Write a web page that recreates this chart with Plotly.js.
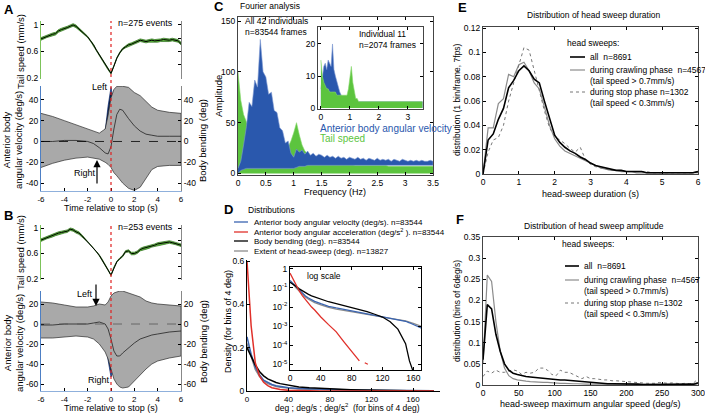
<!DOCTYPE html>
<html>
<head>
<meta charset="utf-8">
<script src="https://cdn.plot.ly/plotly-3.0.1.min.js"></script>
<style>
  body { margin: 0; background: #fff; }
  #fig { width: 705px; height: 414px; }
</style>
</head>
<body>
<div id="fig"></div>
<script>
// ---- panel A / B : time course around stop (step 0.25 s from -6 to 6) ----
var tailA = [0.79,0.81,0.83,0.84,0.86, 0.87,0.91,0.93,0.94,0.96, 0.98,1.0,0.98,0.94,0.9, 0.86,0.82,0.76,0.7,0.62, 0.55,0.47,0.4,0.33,0.27, 0.38,0.5,0.58,0.64,0.67, 0.7,0.71,0.73,0.75,0.77, 0.76,0.75,0.76,0.77,0.76, 0.76,0.77,0.78,0.77,0.77, 0.78,0.77,0.76,0.72]
var tailB = [0.81,0.83,0.85,0.87,0.88, 0.9,0.92,0.93,0.94,0.95, 0.98,0.97,0.94,0.92,0.88, 0.83,0.79,0.74,0.69,0.63, 0.57,0.5,0.42,0.34,0.26, 0.38,0.47,0.52,0.56,0.63, 0.64,0.6,0.6,0.62,0.66, 0.68,0.69,0.7,0.72,0.73, 0.75,0.76,0.76,0.77,0.78, 0.77,0.76,0.75,0.73]
var tailSem = [.02,.02,.02,.02,.02, .02,.02,.02,.02,.02, .02,.02,.02,.02,.015, .012,.01,.008,.008,.008, .008,.008,.008,.008,.008, .008,.008,.01,.012,.015, .018,.02,.02,.02,.02, .02,.02,.02,.02,.02, .02,.02,.02,.02,.02, .02,.02,.02,.02]

var angvelA = [2,1,0,-1,-2, 0,-1,1,0,1, 3,2,1,2,1, 0,-2,-4,-6,-9, -11,-8,5,28,47, 30,2,-15,-21,-17, -11,-6,-2,0,1, 2,3,1,2,0, 1,2,1,0,-1, 0,0,-1,0]
var semA = [4,4,3,3,3, 3,3,3,3,3, 3,3,3,3,3, 3,3,3,3,4, 4,4,5,6,5, 6,6,6,7,6, 5,4,4,4,4, 4,4,4,4,4, 4,4,4,4,4, 4,4,4,4]
var angvelB = [0,-1,0,-1,-2, -1,0,-1,0,-1, 0,-2,-1,0,-2, -1,1,4,7,10, 11,6,-8,-30,-47, -38,-15,8,15,10, 2,-2,-4,-3,-2, -1,-2,0,-3,-2, -3,-1,-2,-3,-4, -1,-3,-2,-3]
var semB = [3,3,3,3,3, 3,3,3,3,3, 3,3,3,3,3, 3,3,3,4,4, 4,4,5,6,6, 6,6,6,7,7, 6,5,5,5,5, 5,5,5,5,5, 5,5,5,5,5, 5,5,5,5]

// body bending (mean and spread), coarser time grid
var bendT = [-6,-5,-4,-3,-2,-1.5,-1,-0.5,-0.25,0,0.25,0.5,0.75,1,1.5,2,2.5,3,3.5,4,5,6]
var bendUpA = [27,24,20,16,12,10,8,12,25,42,50,53,53,53,52,47,44,38,33,30,28,27]
var bendLoA = [-25,-21,-18,-16,-15,-16,-17,-20,-22,-25,-30,-33,-36,-40,-45,-47,-44,-35,-27,-24,-23,-23]
var bendMeanA = [0,0,1,1,0,-2,-6,-11,-12,-5,12,26,31,30,22,15,10,7,6,5,5,5]
var bendUpB = [22,21,19,17,17,18,20,19,22,28,31,32,33,33,31,29,27,23,21,20,19,18]
var bendLoB = [-14,-14,-13,-12,-13,-15,-20,-28,-35,-45,-55,-60,-63,-64,-63,-57,-51,-45,-40,-37,-34,-32]
var bendMeanB = [-1,-1,0,0,0,1,2,0,-5,-15,-27,-32,-32,-29,-24,-19,-15,-13,-11,-10,-8,-7]

// ---- panel C : Fourier amplitude, 0.05 Hz steps ----
var fourierBlueTop = [5,12,28,46,70,66,92,85,132,100, 95,78,80,62,60,45,42,30,32,20, 16,24,21,23,19,22,18,20,17,19, 18,16,18,16,17,15,17,15,16,14, 16,15,14,16,14,15,13,15,14,13, 15,13,14,13,14,12,14,13,12,14, 13,12,13,12,13,12,13,12,12,13, 12]
var fourierBlueLow = [0,3,4,5,5,5,5,5,5,5, 5,5,5,5,5,5,5,5,5,5, 5,6,7,7,7,8,8,8,8,8, 8,8,8,8,8,8,8,8,8,8, 8,8,8,8,8,8,8,8,8,8, 8,8,8,8,8,8,8,8,8,8, 8,8,8,8,8,8,8,8,8,8, 8]
var fourierGreen = [100,72,58,50,44,40,38,35,33,31, 30,28,27,25,24,22,21,22,26,32, 40,50,38,28,22,19,17,15,14,13, 12,11,11,10,10,10,9,9,9,9, 9,9,8,8,8,8,8,8,8,8, 8,8,8,8,7,7,7,7,7,7, 7,7,7,7,7,7,7,7,7,7, 7]
var indivBlue = [6,10,13,14,12,15,14,13,20,12, 10,8,6,5,4,3,3,3,2,2, 2,3,2,2,2,2,2,2,2,2, 2,2,2,2,2,2,2,2,2,2, 2,2,2,2,2,2,2,2,2,2, 2,2,2,2,2,2,2,2,2,2, 2,2,2,2,2,2,2,2,2,2, 2]
var indivGreen = [15,10,8,7,6,6,5,5,5,5, 5,4,4,4,4,4,4,4,4,6, 9,13,8,5,3,3,2,2,2,2, 2,2,2,2,2,2,2,2,2,2, 2,2,2,2,2,2,2,2,2,2, 2,2,2,2,2,2,2,2,2,2, 2,2,2,2,2,2,2,2,2,2, 2]

// ---- panel D : distributions ----
var distX = [0,4,8,12,16,20,24,28,32,40,50,60,70,80,90,100,110,120,130,140,150,155,160,170,180]
var distVel = [0.25,0.17,0.11,0.075,0.05,0.038,0.03,0.024,0.02,0.015,0.011,0.009,0.0075,0.0063,0.0053,0.0045,0.0038,0.0031,0.0026,0.0022,0.0018,0.0015,0.0012,0.0008,0.0006]
var distAcc = [0.6,0.3,0.13,0.07,0.04,0.025,0.015,0.01,0.007,0.003,0.0012,0.0005,0.00015,0.000045,0.000015,null,null,null,null,null,null,null,null,null,null]
var distAccTailX = [97,101]
var distAccTail = [0.000012,0.00001]
var distBend = [0.2,0.16,0.12,0.09,0.07,0.056,0.046,0.039,0.034,0.026,0.019,0.015,0.012,0.0095,0.0072,0.0058,0.0042,0.003,0.0017,0.0007,0.00012,0.000015,0.000004,null,null]
var distSweep = [0.22,0.16,0.1,0.068,0.046,0.034,0.026,0.021,0.017,0.013,0.0095,0.0078,0.0066,0.0057,0.0049,0.0042,0.0036,0.003,0.0026,0.0022,0.0019,0.0017,0.0014,0.001,0.0008]

// ---- panel E : head sweep duration, one bin per frame (7 fps) ----
var durAll = [0,0.028,0.033,0.045,0.054,0.071,0.077,0.085,0.089,0.085,0.078,0.075,0.06,0.045,0.032,0.026,0.022,0.019,0.017,0.014,0.012,0.009,0.007,0.006,0.005,0.004,0.003,0.003,0.002,0.002,0.002,0.002,0.001,0.001,0.001,0.001,0.001,0.001,0.001,0.001,0.001,0.001,0.002]
var durCrawl = [0,0.038,0.038,0.058,0.062,0.082,0.08,0.09,0.092,0.085,0.075,0.07,0.055,0.04,0.029,0.023,0.019,0.017,0.015,0.013,0.011,0.009,0.007,0.005,0.004,0.003,0.003,0.002,0.002,0.002,0.001,0.001,0.001,0.001,0.001,0.001,0.001,0.001,0.001,0.001,0.001,0.001,0.002]
var durStop = [0,0.018,0.028,0.03,0.04,0.06,0.075,0.09,0.104,0.102,0.085,0.07,0.052,0.038,0.031,0.028,0.025,0.021,0.018,0.022,0.012,0.008,0.006,0.005,0.004,0.003,0.003,0.003,0.002,0.002,0.002,0.002,0.002,0.001,0.001,0.001,0.001,0.001,0.001,0.001,0.001,0.001,0.001]

// ---- panel F : head sweep amplitude, bins of 6 deg/s ----
var ampAll = [0.06,0.19,0.18,0.12,0.08,0.05,0.035,0.028,0.025,0.022,0.02,0.019,0.018,0.016,0.016,0.015,0.014,0.013,0.012,0.012,0.011,0.01,0.01,0.009,0.008,0.006,0.005,0.004,0.004,0.003,0.003,0.003,0.002,0.002,0.002,0.002,0.002,0.001,0.001,0.001,0.001,0.001,0.001,0.001,0.001,0.001,0.001,0.001,0.001,0.002,0.005]
var ampCrawl = [0.05,0.26,0.245,0.15,0.08,0.04,0.022,0.015,0.012,0.01,0.009,0.008,0.007,0.007,0.006,0.006,0.005,0.005,0.004,0.004,0.003,0.003,0.003,0.002,0.002,0.002,0.002,0.001,0.001,0.001,0.001,0.001,0.001,0.001,0.001,0.001,0.001,0.001,0.001,0.001,0.001,0.001,0.001,0.001,0.001,0.001,0.001,0.001,0.001,0.001,0.003]
var ampStop = [0.02,0.033,0.028,0.035,0.03,0.03,0.033,0.036,0.033,0.025,0.03,0.028,0.03,0.04,0.04,0.035,0.025,0.022,0.035,0.03,0.03,0.025,0.02,0.015,0.02,0.015,0.015,0.013,0.012,0.012,0.01,0.01,0.009,0.008,0.008,0.006,0.006,0.005,0.004,0.004,0.004,0.006,0.005,0.004,0.005,0.004,0.003,0.004,0.003,0.005,0.015]

// ---------------------------------------------------------------
var W = 705, H = 414
var FONT = "Liberation Sans, Arial, sans-serif"
function hx(a, b) { return [a / W, b / W] }
function vy(top, bot) { return [1 - bot / H, 1 - top / H] }
function labels(vals) { return vals.map(function (v) { return String(v) }) }  // plain hyphen minus

var timeSteps = tailA.map(function (v, i) { return -6 + i * 0.25 })
var freqs = fourierGreen.map(function (v, i) { return i * 0.05 })
var durX = durAll.map(function (v, i) { return i / 7 })
var ampX = ampAll.map(function (v, i) { return i * 6 })

function band(x, mid, half, xa, ya, fill, edge) {
    var hi = mid.map(function (v, i) { return v + half[i] })
    var lo = mid.map(function (v, i) { return v - half[i] })
    return {x: x.concat(x.slice().reverse()), y: hi.concat(lo.reverse()), xaxis: xa, yaxis: ya,
        fill: "toself", fillcolor: fill, mode: "lines", line: {color: edge, width: 0.7}}
}
function spread(x, up, lo, xa, ya, fill, edge, w) {
    return {x: x.concat(x.slice().reverse()), y: up.concat(lo.slice().reverse()), xaxis: xa, yaxis: ya,
        fill: "toself", fillcolor: fill, mode: "lines", line: {color: edge, width: w}}
}
function line(x, y, xa, ya, color, width, dash) {
    return {x: x, y: y, xaxis: xa, yaxis: ya, mode: "lines", line: {color: color, width: width, dash: dash || "solid"}}
}

var data = []
// A
data.push(band(timeSteps, tailA, tailSem, "x", "y", "#5cb83c", "#2f6d1e"))
data.push(line(timeSteps, tailA, "x", "y", "#000", 1))
data.push({x: [0], y: [null], xaxis: "x", yaxis: "y4"})
data.push(spread(bendT, bendUpA, bendLoA, "x2", "y3", "#a9a9a9", "#2a2a2a", 0.7))
data.push(line(bendT, bendMeanA, "x2", "y3", "#222", 0.8))
data.push(band(timeSteps, angvelA, semA, "x2", "y2", "#2b5bb5", "#0b2461"))
data.push(line(timeSteps, angvelA, "x2", "y2", "#0a1a3c", 1))
// B
data.push(band(timeSteps, tailB, tailSem, "x3", "y5", "#5cb83c", "#2f6d1e"))
data.push(line(timeSteps, tailB, "x3", "y5", "#000", 1))
data.push({x: [0], y: [null], xaxis: "x3", yaxis: "y6"})
data.push(spread(bendT, bendUpB, bendLoB, "x4", "y8", "#a9a9a9", "#2a2a2a", 0.7))
data.push(line(bendT, bendMeanB, "x4", "y8", "#222", 0.8))
data.push(band(timeSteps, angvelB, semB, "x4", "y7", "#2b5bb5", "#0b2461"))
data.push(line(timeSteps, angvelB, "x4", "y7", "#0a1a3c", 1))
// C : tail speed spectrum under, angular velocity spectrum band on top
data.push({x: freqs, y: fourierGreen, xaxis: "x5", yaxis: "y9", mode: "lines", fill: "tozeroy",
    fillcolor: "#5cc43e", line: {color: "#86d86c", width: 0.6}})
data.push(spread(freqs, fourierBlueTop, fourierBlueLow, "x5", "y9", "#2a58ad", "#7d99d2", 0.6))
data.push({x: freqs, y: indivBlue, xaxis: "x6", yaxis: "y10", mode: "lines", fill: "tozeroy",
    fillcolor: "#2a58ad", line: {color: "#7d99d2", width: 0.6}})
data.push({x: freqs, y: indivGreen, xaxis: "x6", yaxis: "y10", mode: "lines", fill: "tozeroy",
    fillcolor: "#5cc43e", line: {color: "#86d86c", width: 0.6}})
// D main and log inset
var dCurves = [[distSweep, "#8c8c8c"], [distVel, "#3a64b0"], [distBend, "#000"], [distAcc, "#e0302a"]]
dCurves.forEach(function (c) {
    data.push(line(distX, c[0].map(function (v) { return v === null ? 0 : v }), "x7", "y11", c[1], 1.5))
    data.push(line(distX, c[0], "x8", "y12", c[1], 1.3))
})
data.push(line(distAccTailX, distAccTail, "x8", "y12", "#e0302a", 1.3))
// E
data.push(line(durX, durCrawl, "x9", "y13", "#8c8c8c", 1.2))
data.push(line(durX, durStop, "x9", "y13", "#777", 1, "dot"))
data.push(line(durX, durAll, "x9", "y13", "#000", 1.6))
// F
data.push(line(ampX, ampCrawl, "x10", "y14", "#8c8c8c", 1.2))
data.push(line(ampX, ampStop, "x10", "y14", "#777", 1, "dot"))
data.push(line(ampX, ampAll, "x10", "y14", "#000", 1.6))

function axis(extra) {
    return Object.assign({showgrid: false, zeroline: false, showline: true, linecolor: "#000", linewidth: 1,
        ticks: "inside", ticklen: 3, tickcolor: "#000", tickfont: {size: 8.5, color: "#000"},
        ticklabeloverflow: "allow", automargin: false}, extra)
}
var tY = [0.2, 0.6, 1]
var timeTicks = [-6, -4, -2, 0, 2, 4, 6]
var angA = [-40, -20, 0, 20, 40]
var angB = [-60, -40, -20, 0, 20]

var layout = {
    width: W, height: H, margin: {l: 0, r: 0, t: 0, b: 0}, showlegend: false,
    paper_bgcolor: "#fff", plot_bgcolor: "#fff", font: {family: FONT, color: "#000", size: 9},
    // A
    xaxis: axis({domain: hx(41, 181), range: [-6, 6], anchor: "y", visible: false}),
    yaxis: axis({domain: vy(21, 79), anchor: "x", range: [0.185, 1.06], tickvals: tY, ticktext: labels(tY), linecolor: "#7cc35a"}),
    yaxis4: axis({overlaying: "y", side: "right", anchor: "x", range: [0.185, 1.06], tickvals: [0.2, 0.4, 0.6, 0.8, 1],
        showticklabels: false, linecolor: "#888"}),
    xaxis2: axis({domain: hx(41, 181), range: [-6, 6], anchor: "y2", tickvals: timeTicks, ticktext: labels(timeTicks),
        linecolor: "#8fb0dc", tickfont: {size: 8, color: "#000"}}),
    yaxis2: axis({domain: vy(86, 191), range: [-47.6, 53.3], anchor: "x2", tickvals: angA, ticktext: labels(angA), linecolor: "#4d7fc4"}),
    yaxis3: axis({overlaying: "y2", side: "right", anchor: "x2", range: [-47.6, 53.3], tickvals: angA, ticktext: labels(angA), linecolor: "#888"}),
    // B
    xaxis3: axis({domain: hx(41, 181), range: [-6, 6], anchor: "y5", visible: false}),
    yaxis5: axis({domain: vy(225, 280), anchor: "x3", range: [0.184, 1.047], tickvals: tY, ticktext: labels(tY), linecolor: "#7cc35a"}),
    yaxis6: axis({overlaying: "y5", side: "right", anchor: "x3", range: [0.184, 1.047], tickvals: [0.2, 0.4, 0.6, 0.8, 1],
        showticklabels: false, linecolor: "#888"}),
    xaxis4: axis({domain: hx(41, 181), range: [-6, 6], anchor: "y7", tickvals: timeTicks, ticktext: labels(timeTicks),
        linecolor: "#8fb0dc", tickfont: {size: 8, color: "#000"}}),
    yaxis7: axis({domain: vy(291, 391), range: [-67, 33], anchor: "x4", tickvals: angB, ticktext: labels(angB), linecolor: "#4d7fc4"}),
    yaxis8: axis({overlaying: "y7", side: "right", anchor: "x4", range: [-67, 33], tickvals: angB, ticktext: labels(angB), linecolor: "#888"}),
    // C
    xaxis5: axis({domain: hx(238, 433), range: [0, 3.5], anchor: "y9", dtick: 0.5, mirror: "ticks", linecolor: "#444"}),
    yaxis9: axis({domain: vy(17, 175), range: [-1.5, 154], anchor: "x5", tickvals: [0, 50, 100, 150], mirror: "ticks", linecolor: "#444"}),
    xaxis6: axis({domain: hx(318, 423), range: [-0.1, 3.52], anchor: "y10", tickvals: [0, 1, 2, 3], mirror: "ticks", linecolor: "#444"}),
    yaxis10: axis({domain: vy(27, 109), range: [-0.3, 25.3], anchor: "x6", tickvals: [0, 10, 20], mirror: "ticks", linecolor: "#444"}),
    // D
    xaxis7: axis({domain: hx(247, 440), range: [0, 186], anchor: "y11", tickvals: [0, 40, 80, 120, 160], tickfont: {size: 8, color: "#000"}}),
    yaxis11: axis({domain: vy(260, 391), range: [0, 0.605], anchor: "x7", tickvals: [0, 0.2, 0.4, 0.6]}),
    xaxis8: axis({domain: hx(290, 421), range: [0, 170], anchor: "y12", tickvals: [0, 40, 80, 120, 160], mirror: "ticks"}),
    yaxis12: axis({domain: vy(267, 370), type: "log", range: [-5.3, 0.1], anchor: "x8", mirror: "ticks",
        tickvals: [1, 0.1, 0.01, 0.001, 0.0001, 0.00001],
        ticktext: ["1", "10<sup>-1</sup>", "10<sup>-2</sup>", "10<sup>-3</sup>", "10<sup>-4</sup>", "10<sup>-5</sup>"]}),
    // E
    xaxis9: axis({domain: hx(483, 698), range: [0, 6], anchor: "y13", dtick: 1, mirror: "ticks", linecolor: "#444"}),
    yaxis13: axis({domain: vy(27, 174), range: [0, 0.121], anchor: "x9", dtick: 0.02, mirror: "ticks", linecolor: "#444"}),
    // F
    xaxis10: axis({domain: hx(483, 698), range: [0, 300], anchor: "y14", dtick: 50, mirror: "ticks", linecolor: "#444"}),
    yaxis14: axis({domain: vy(237, 385), range: [0, 0.35], anchor: "x10", dtick: 0.05, mirror: "ticks", linecolor: "#444"})
}

function note(text, x, y, o) {
    return Object.assign({text: text, x: x / W, y: 1 - y / H, xref: "paper", yref: "paper", showarrow: false,
        xanchor: "left", yanchor: "middle", font: {size: 9, color: "#000"}}, o || {})
}
function vnote(text, x, y, size) {
    return note(text, x, y, {textangle: -90, xanchor: "center", font: {size: size || 9.5, color: "#000"}})
}
function arrow(x, y, dy) {
    return {x: x / W, y: 1 - y / H, xref: "paper", yref: "paper", showarrow: true, ax: 0, ay: dy, text: "",
        arrowhead: 2, arrowsize: 1.2, arrowwidth: 1.2, arrowcolor: "#000"}
}
function sz(s, color) { return {font: {size: s, color: color || "#000"}} }
var big = {font: {size: 13, color: "#000", family: FONT}}

var ann = [
    note("<b>A</b>", 2, 10, big),
    note("n=275 events", 116, 23),
    note("Left", 100, 87, {xanchor: "center"}),
    note("Right", 85, 173, {xanchor: "center"}),
    arrow(97, 160, 25),
    vnote("Tail speed (mm/s)", 20, 52),
    note("Anterior body<br>angular velocity (deg/s)", 13, 140, {textangle: -90, xanchor: "center", font: {size: 9.5, color: "#000"}}),
    vnote("Body bending (deg)", 203, 141),
    note("Time relative to stop (s)", 111, 202.5, Object.assign({xanchor: "center", yanchor: "top", borderpad: 0}, sz(9))),

    note("<b>B</b>", 2, 215, big),
    note("n=253 events", 116, 227),
    note("Left", 85, 294, {xanchor: "center"}),
    note("Right", 99, 380, {xanchor: "center"}),
    arrow(96, 306, -23),
    vnote("Tail speed (mm/s)", 20, 253),
    note("Anterior body<br>angular velocity (deg/s)", 13, 343, {textangle: -90, xanchor: "center", font: {size: 9.5, color: "#000"}}),
    vnote("Body bending (deg)", 203, 342),
    note("Time relative to stop (s)", 111, 414, Object.assign({xanchor: "center", yanchor: "bottom", borderpad: 0}, sz(9))),

    note("<b>C</b>", 212, 7, big),
    note("Fourier analysis", 238, 6, sz(8.5)),
    note("All 42 individuals<br>n=83544 frames", 243, 27, Object.assign({align: "left"}, sz(8.5))),
    note("Individual 11<br>n=2074 frames", 357, 40, Object.assign({align: "left"}, sz(8.5))),
    note("Anterior body angular velocity", 318, 128, sz(10, "#2a58ad")),
    note("Tail speed", 318, 139, sz(10, "#5cc43e")),
    note("Frequency (Hz)", 335, 192, Object.assign({xanchor: "center"}, sz(9))),
    vnote("Amplitude", 218, 96, 9.5),

    note("<b>D</b>", 222, 209, big),
    note("Distributions", 246, 210, sz(8.5)),
    note("Anterior body angular velocity (deg/s). n=83544", 252, 222, sz(8)),
    note("Anterior body angular acceleration (deg/s<sup>2</sup> ). n=83544", 252, 232, sz(8)),
    note("Body bending (deg). n=83544", 252, 241, sz(8)),
    note("Extent of head-sweep (deg). n=13827", 252, 251, sz(8)),
    note("log scale", 305, 276, sz(8.5)),
    vnote("Density (for bins of 4 deg)", 228, 322, 9),
    note("deg ; deg/s ; deg/s<sup>2</sup>  (for bins of 4 deg)", 347, 414, Object.assign({xanchor: "center", yanchor: "bottom", borderpad: 0}, sz(8.5))),

    note("<b>E</b>", 456, 8, big),
    note("Distribution of head sweep duration", 594, 15, Object.assign({xanchor: "center"}, sz(8.5))),
    note("head sweeps:", 565, 43, sz(8.5)),
    note("all  n=8691", 588, 57, sz(8.5)),
    note("during crawling phase  n=4567<br>(tail speed > 0.7mm/s)", 588, 75, Object.assign({align: "left"}, sz(8.5))),
    note("during stop phase n=1302<br>(tail speed < 0.3mm/s)", 588, 97, Object.assign({align: "left"}, sz(8.5))),
    note("head-sweep duration (s)", 590, 194, Object.assign({xanchor: "center"}, sz(9))),
    vnote("distribution (1 bin/frame, 7fps)", 457, 100, 8.5),

    note("<b>F</b>", 454, 219, big),
    note("Distribution of head sweep amplitude", 594, 226, Object.assign({xanchor: "center"}, sz(8.5))),
    note("head sweeps:", 560, 244, sz(8.5)),
    note("all  n=8691", 582, 266, sz(8.5)),
    note("during crawling phase  n=4567<br>(tail speed > 0.7mm/s)", 582, 285, Object.assign({align: "left"}, sz(8.5))),
    note("during stop phase n=1302<br>(tail speed < 0.3mm/s)", 582, 308, Object.assign({align: "left"}, sz(8.5))),
    note("head-sweep maximum angular speed (deg/s)", 590, 404, Object.assign({xanchor: "center"}, sz(9))),
    vnote("distribution (bins of 6deg/s)", 457, 311, 8.5)
]

function seg(x0, x1, y, color, width, dash) {
    return {type: "line", xref: "paper", yref: "paper", x0: x0 / W, x1: x1 / W, y0: 1 - y / H, y1: 1 - y / H,
        line: {color: color, width: width, dash: dash || "solid"}}
}
var shapes = [
    // stop time marker and zero lines
    {type: "line", xref: "x2", yref: "paper", x0: 0, x1: 0, y0: 1 - 191 / H, y1: 1 - 21 / H, line: {color: "#e02020", width: 1.2, dash: "dot"}},
    {type: "line", xref: "x4", yref: "paper", x0: 0, x1: 0, y0: 1 - 391 / H, y1: 1 - 225 / H, line: {color: "#e02020", width: 1.2, dash: "dot"}},
    {type: "line", xref: "x2", yref: "y2", x0: -6, x1: 6, y0: 0, y1: 0, line: {color: "#000", width: 0.8, dash: "dash"}},
    {type: "line", xref: "x4", yref: "y7", x0: -6, x1: 6, y0: 0, y1: 0, line: {color: "#555", width: 0.8, dash: "dash"}},
    // legend samples
    seg(234, 248, 222, "#3a64b0", 1.3), seg(234, 248, 232, "#e0302a", 1.3),
    seg(234, 248, 241, "#000", 1.3), seg(234, 248, 251, "#8c8c8c", 1.3),
    seg(570, 585, 57, "#000", 1.6), seg(570, 585, 70, "#8c8c8c", 1.2), seg(570, 585, 92, "#777", 1, "dot"),
    seg(565, 579, 266, "#000", 1.6), seg(565, 579, 280, "#8c8c8c", 1.2), seg(565, 579, 303, "#777", 1, "dot")
]
layout.annotations = ann
layout.shapes = shapes

Plotly.newPlot("fig", data, layout, {staticPlot: true})
</script>
</body>
</html>
